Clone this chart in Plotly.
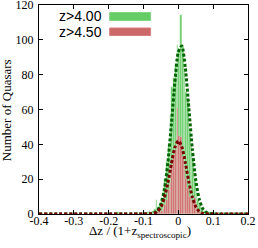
import plotly.graph_objects as go

# ---- data ----
bin_width = 0.005
green_left = [-0.175, -0.12, -0.1, -0.09, -0.085, -0.08, -0.075, -0.07, -0.065, -0.06,
              -0.055, -0.05, -0.045, -0.04, -0.035, -0.03, -0.025, -0.02, -0.015, -0.01,
              -0.005, 0.0, 0.005, 0.01, 0.015, 0.02, 0.025, 0.03, 0.035, 0.04,
              0.045, 0.05, 0.055, 0.06, 0.065, 0.07, 0.075, 0.08, 0.085, 0.095]
green_counts = [1, 1, 1, 1, 2, 1, 2, 3, 8, 4,
                6, 9, 15, 20, 30, 40, 57, 73, 78, 86,
                97, 95, 114, 96, 82, 70, 65, 47, 40, 32,
                20, 12, 8, 5, 3, 2, 2, 1, 1, 1]

red_left = [-0.085, -0.06, -0.055, -0.05, -0.045, -0.04, -0.035, -0.03, -0.025, -0.02,
            -0.015, -0.01, -0.005, 0.0, 0.005, 0.01, 0.015, 0.02, 0.025, 0.03,
            0.035, 0.04, 0.045, 0.05, 0.055, 0.06]
red_counts = [1, 1, 1, 2, 3, 5, 8, 14, 18, 28,
              34, 37, 61, 45, 44, 33, 26, 20, 15, 10,
              8, 7, 9, 5, 2, 1]

# Gaussian fit curves
curve_x = [-0.4, -0.1, -0.09, -0.08, -0.07, -0.06, -0.05, -0.04, -0.03, -0.02, -0.01,
           0.0, 0.01, 0.02, 0.03, 0.04, 0.05, 0.06, 0.07, 0.08, 0.09, 0.1, 0.11, 0.2]
green_fit = [0, 0, 0, 0.1, 0.6, 2.0, 5.8, 14.2, 29.5, 51.5, 75.5,
             93, 96.5, 84, 61.3, 37.7, 19.5, 8.5, 3.1, 1.0, 0.3, 0.05, 0, 0]
red_fit = [0, 0, 0, 0.1, 0.4, 1.4, 4.0, 9.3, 17.9, 28.8, 38.2,
           42, 38.6, 29.5, 18.6, 9.8, 4.3, 1.5, 0.4, 0.1, 0, 0, 0, 0]

legend_labels = ["z>4.00", "z>4.50"]
x_title = "Δz / (1+z<sub>spectroscopic</sub>)"
y_title = "Number of Quasars"
x_ticks = [-0.4, -0.3, -0.2, -0.1, 0, 0.1, 0.2]
x_ticktext = ["-0.4", "-0.3", "-0.2", "-0.1", "0", "0.1", "0.2"]
y_ticks = [0, 20, 40, 60, 80, 100, 120]

green_fill = "#66CC66"
red_fill = "#CD6868"
green_line = "#006400"
red_line = "#7A0000"

green_x = [l + bin_width / 2 for l in green_left]
red_x = [l + bin_width / 2 for l in red_left]

fig = go.Figure()
fig.add_trace(go.Bar(x=green_x, y=green_counts, width=bin_width,
                     marker=dict(color=green_fill, line=dict(color="rgba(255,255,255,0.7)", width=0.4)),
                     showlegend=False))
fig.add_trace(go.Bar(x=red_x, y=red_counts, width=bin_width,
                     marker=dict(color=red_fill, line=dict(color="rgba(255,255,255,0.7)", width=0.4)),
                     showlegend=False))
fig.add_trace(go.Scatter(x=curve_x, y=green_fit, mode="lines",
                         line=dict(color=green_line, width=3, dash="3px,2px", shape="spline", smoothing=0.7),
                         showlegend=False))
fig.add_trace(go.Scatter(x=curve_x, y=red_fit, mode="lines",
                         line=dict(color=red_line, width=3, dash="3px,2px", shape="spline", smoothing=0.7),
                         showlegend=False))

serif = "Liberation Serif, Times New Roman, serif"
sans = "Liberation Sans, Arial, sans-serif"

axis_common = dict(ticks="inside", ticklen=4, tickcolor="black", showgrid=False, zeroline=False,
                   showline=True, linecolor="black", linewidth=1, mirror="ticks",
                   tickfont=dict(family=serif, size=12), automargin=False,
                   ticklabeloverflow="allow")

fig.update_layout(
    width=258, height=248,
    margin=dict(l=39, r=10, t=5, b=34),
    paper_bgcolor="white", plot_bgcolor="white",
    barmode="overlay", bargap=0,
    font=dict(family=serif, size=12, color="black"),
    xaxis=dict(range=[-0.4, 0.2], tickvals=x_ticks, ticktext=x_ticktext,
               ticklabelstandoff=-4, **axis_common),
    yaxis=dict(range=[0, 120], tickvals=y_ticks, ticklabelstandoff=2, **axis_common),
)

# axis titles
fig.add_annotation(x=0.482, y=-0.083, xref="paper", yref="paper", text=x_title,
                   showarrow=False, xanchor="center", yanchor="middle",
                   font=dict(family=serif, size=13, color="black"))
fig.add_annotation(x=-0.152, y=0.498, xref="paper", yref="paper", text=y_title,
                   showarrow=False, xanchor="center", yanchor="middle", textangle=-90,
                   font=dict(family=serif, size=13, color="black"))

# custom legend (text + long swatches)
fig.add_annotation(x=0.085, y=0.945, xref="paper", yref="paper", text=legend_labels[0],
                   showarrow=False, xanchor="left", yanchor="middle",
                   font=dict(family=sans, size=14, color="black"))
fig.add_annotation(x=0.085, y=0.870, xref="paper", yref="paper", text=legend_labels[1],
                   showarrow=False, xanchor="left", yanchor="middle",
                   font=dict(family=sans, size=14, color="black"))
fig.add_shape(type="rect", xref="paper", yref="paper", x0=0.338, x1=0.534, y0=0.926, y1=0.964,
              fillcolor=green_fill, line=dict(color="#7FD87F", width=1))
fig.add_shape(type="rect", xref="paper", yref="paper", x0=0.338, x1=0.534, y0=0.854, y1=0.890,
              fillcolor=red_fill, line=dict(color="#D88080", width=1))

fig.write_html("out.html", config={"displayModeBar": False},
               post_script="document.body.style.margin='0';")
